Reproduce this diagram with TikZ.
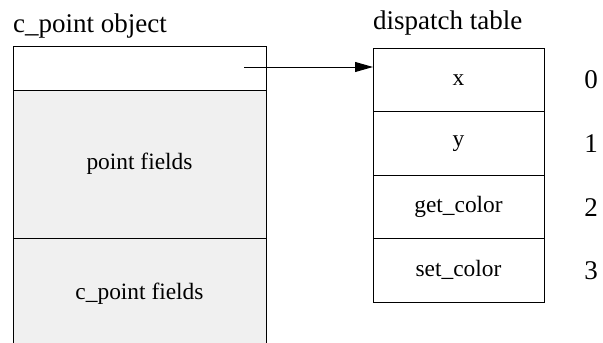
\documentclass[tikz,border=0pt]{standalone}
\usepackage{fontspec}
\setmainfont{Liberation Serif}
\usetikzlibrary{arrows.meta}
\definecolor{fieldgray}{HTML}{F0F0F0}
\tikzset{
  cell/.style={draw=black, line width=1pt, minimum width=171pt, minimum height=63.5pt, inner sep=0pt, outer sep=0pt, font=\fontsize{23.4}{26}\selectfont},
  objcell/.style={line width=1pt, minimum width=253pt, inner sep=0pt, outer sep=0pt, font=\fontsize{23.4}{26}\selectfont},
  title/.style={anchor=base west, inner sep=0pt, font=\fontsize{27}{30}\selectfont},
  idx/.style={inner sep=0pt, font=\fontsize{27}{30}\selectfont},
  ptr/.style={line width=1pt, -{Triangle[length=18pt, width=10pt]}}
}
\begin{document}
\begin{tikzpicture}[x=1pt, y=-1pt]
\useasboundingbox (0,0) rectangle (603,343);
% titles
\node[title] (t1) at (13,32) {c\_point object};
\node[title] (t2) at (373,29) {dispatch table};
% c_point object
\node[objcell, fill=fieldgray, minimum height=112pt] (cpf) at (139.5,294) {c\_point fields};
\node[objcell, draw=black, fill=fieldgray, minimum height=148pt] (pf) at (139.5,164) {point fields};
\node[objcell, draw=black, fill=white, minimum height=44pt] (hdr) at (139.5,68) {};
\draw[line width=1pt] (pf.south west) -- (pf.south west |- cpf.south);
\draw[line width=1pt] (pf.south east) -- (pf.south east |- cpf.south);
\coordinate (src) at (244,67);
% dispatch table
\node[cell] (dx) at (458.5,79.75) {x};
\node[cell, anchor=north] (dy) at (dx.south) {y};
\node[cell, anchor=north] (dg) at (dy.south) {get\_color};
\node[cell, anchor=north] (ds) at (dg.south) {set\_color};
% indices
\node[idx] (i0) at (591,80) {0};
\node[idx] (i1) at (591,144) {1};
\node[idx] (i2) at (591,208) {2};
\node[idx] (i3) at (591,271) {3};
% pointer
\draw[ptr] (src) -- (src -| dx.west);
\end{tikzpicture}
\end{document}
